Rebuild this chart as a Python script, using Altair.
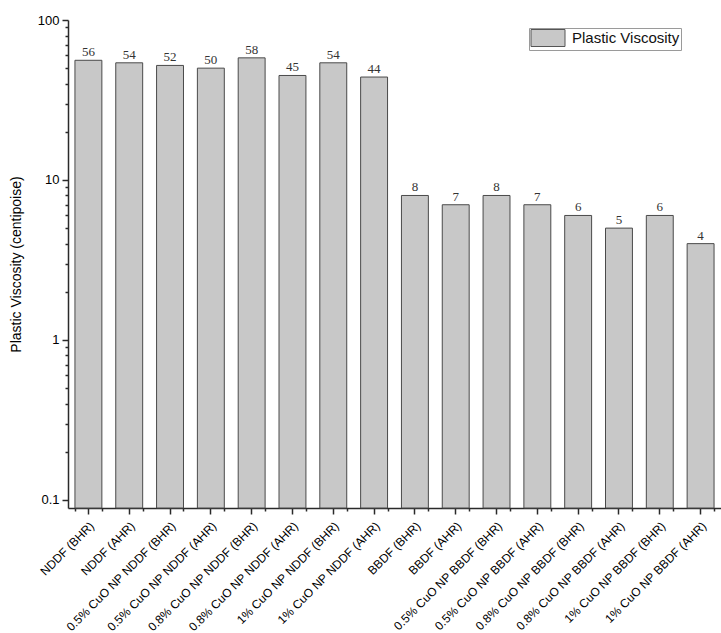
import altair as alt
import pandas as pd

# Drilling fluid samples before (BHR) and after (AHR) hot rolling
categories = [
    "NDDF (BHR)", "NDDF (AHR)",
    "0.5% CuO NP NDDF (BHR)", "0.5% CuO NP NDDF (AHR)",
    "0.8% CuO NP NDDF (BHR)", "0.8% CuO NP NDDF (AHR)",
    "1% CuO NP NDDF (BHR)", "1% CuO NP NDDF (AHR)",
    "BBDF (BHR)", "BBDF (AHR)",
    "0.5% CuO NP BBDF (BHR)", "0.5% CuO NP BBDF (AHR)",
    "0.8% CuO NP BBDF (BHR)", "0.8% CuO NP BBDF (AHR)",
    "1% CuO NP BBDF (BHR)", "1% CuO NP BBDF (AHR)",
]
plastic_viscosity = [56, 54, 52, 50, 58, 45, 54, 44, 8, 7, 8, 7, 6, 5, 6, 4]
series_name = "Plastic Viscosity"

major_ticks = [0.1, 1, 10, 100]
minor_ticks = [0.2, 0.3, 0.4, 0.5, 0.6, 0.7, 0.8, 0.9,
               2, 3, 4, 5, 6, 7, 8, 9,
               20, 30, 40, 50, 60, 70, 80, 90]

df = pd.DataFrame({
    "condition": categories,
    "viscosity": plastic_viscosity,
    "series": [series_name] * len(categories),
})

TICK = "#2a2a2a"
TICK_W = 1.5

x_scale = alt.Scale(paddingInner=0.34, paddingOuter=0.17)
y_scale = alt.Scale(type="log", domain=[0.089, 100], nice=False)


def x_field(axis):
    return alt.X("condition:N", sort=categories, scale=x_scale, axis=axis)


def y_field(axis):
    return alt.Y("viscosity:Q", scale=y_scale, stack=None, axis=axis)


base = alt.Chart(df)

bars = base.mark_bar(stroke="#4a4a4a", strokeWidth=1, fill="#c8c8c8").encode(
    x=x_field(alt.Axis(
        title=None,
        orient="bottom",
        labelAngle=315,
        labelFontSize=12,
        tickColor=TICK,
        tickWidth=TICK_W,
        tickSize=6,
        labelPadding=6,
    )),
    y=y_field(alt.Axis(
        title="Plastic Viscosity (centipoise)",
        orient="left",
        values=major_ticks,
        format="~g",
        tickColor=TICK,
        tickWidth=TICK_W,
        tickSize=6,
        labelFontSize=13,
        labelPadding=3,
        titleFontSize=14,
        titleFontWeight="normal",
        titlePadding=14,
    )),
    color=alt.Color(
        "series:N",
        scale=alt.Scale(domain=[series_name], range=["#c8c8c8"]),
        legend=alt.Legend(
            title=None,
            orient="none",
            legendX=461,
            legendY=8,
            direction="vertical",
            padding=1,
            strokeColor="#9a9a9a",
            fillColor="white",
            symbolType="M-2,-1H2V1H-2Z",
            symbolSize=289,
            symbolOffset=9,
            symbolStrokeColor="#555555",
            symbolStrokeWidth=1,
            symbolOpacity=1,
            labelFontSize=15,
            labelFont="Liberation Sans",
            labelColor="#111111",
            labelOffset=15,
        ),
    ),
)

# Minor ticks: band boundaries on x, intermediate decades on y
minor = base.mark_bar(opacity=0).encode(
    x=x_field(alt.Axis(
        title=None,
        orient="bottom",
        labels=False,
        domain=False,
        tickColor=TICK,
        tickWidth=TICK_W,
        tickBand="extent",
        tickSize=3,
    )),
    y=y_field(alt.Axis(
        title=None,
        orient="left",
        values=minor_ticks,
        labels=False,
        domain=False,
        tickColor=TICK,
        tickWidth=TICK_W,
        tickSize=3,
    )),
)

value_labels = base.mark_text(
    dy=-8, font="Liberation Serif", fontSize=13, color="#333333"
).encode(
    x=x_field(None),
    y=y_field(None),
    text="viscosity:Q",
)

chart = (
    alt.layer(bars, minor, value_labels)
    .resolve_axis(x="independent", y="independent")
    .properties(
        width=653,
        height=488,
        padding={"left": 68, "top": 20, "right": 0, "bottom": 125},
        autosize=alt.AutoSizeParams(type="none"),
    )
    .configure_view(stroke=None)
    .configure_axis(
        labelFont="Liberation Sans",
        titleFont="Liberation Sans",
        labelColor="#000000",
        titleColor="#000000",
        domainColor="#2a2a2a",
        domainWidth=1.5,
        grid=False,
    )
)

chart.save("out.html", embed_options={"renderer": "svg", "actions": False})
